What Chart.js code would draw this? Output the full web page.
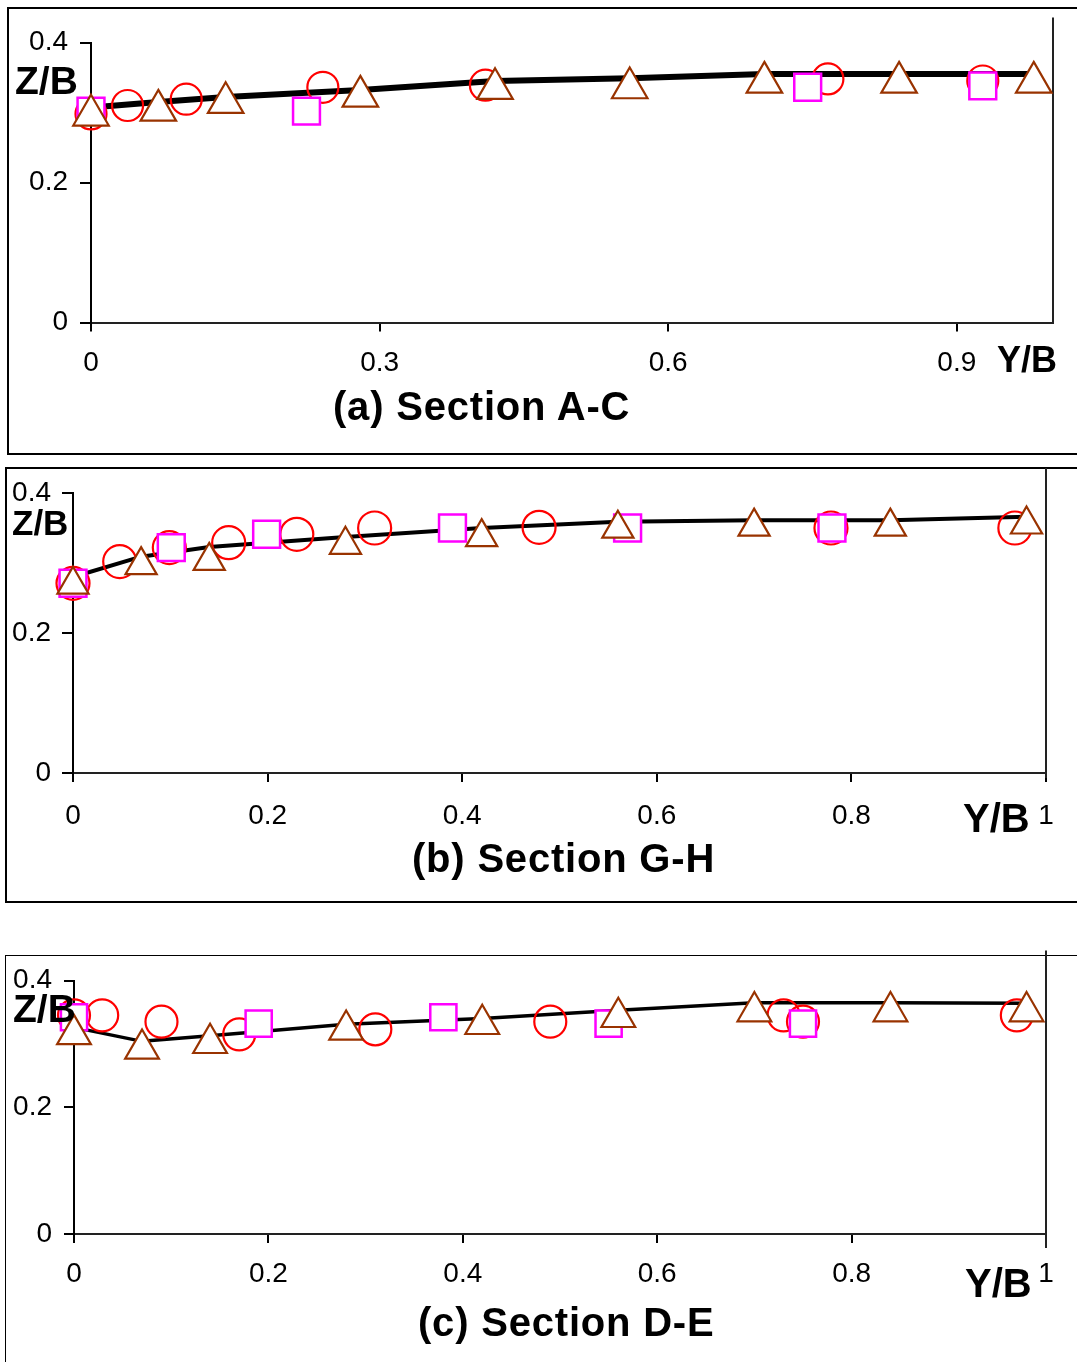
<!DOCTYPE html>
<html>
<head>
<meta charset="utf-8">
<script src="https://cdn.jsdelivr.net/npm/chart.js@4.4.1/dist/chart.umd.min.js"></script>
<style>
  body { margin: 0; background: #fff; width: 1077px; height: 1362px; position: relative; overflow: hidden;
         font-family: "Liberation Sans", Arial, sans-serif; }
  .box { position: absolute; border: 2px solid #000; box-sizing: border-box; }
  canvas { position: absolute; left: 0; }
  .lbl { position: absolute; font-weight: bold; line-height: 1; white-space: nowrap; color: #000; }
  .title { letter-spacing: 0.8px; font-size: 40px; }
</style>
</head>
<body>
<div class="box" style="left:7px;top:7px;width:1100px;height:448px"></div>
<div class="box" style="left:5px;top:467px;width:1100px;height:436px"></div>
<div class="box" style="left:5px;top:955px;width:1100px;height:440px;border-width:1.5px"></div>

<canvas id="chartA" width="1077" height="460" style="top:0"></canvas>
<canvas id="chartB" width="1077" height="450" style="top:460px"></canvas>
<canvas id="chartC" width="1077" height="422" style="top:940px"></canvas>

<div class="lbl" style="left:15px;top:61px;font-size:39px">Z/B</div>
<div class="lbl" style="left:997px;top:342px;font-size:36px">Y/B</div>
<div class="lbl title" style="left:333px;top:386px">(a) Section A-C</div>

<div class="lbl" style="left:12px;top:505px;font-size:35px">Z/B</div>
<div class="lbl" style="left:963px;top:798px;font-size:40px">Y/B</div>
<div class="lbl title" style="left:412px;top:838px">(b) Section G-H</div>

<div class="lbl" style="left:13px;top:989px;font-size:39px">Z/B</div>
<div class="lbl" style="left:965px;top:1263px;font-size:40px">Y/B</div>
<div class="lbl title" style="left:418px;top:1302px">(c) Section D-E</div>

<script>
// tick labels
const xTicksA = [0, 0.3, 0.6, 0.9];
const xTicksBC = [0, 0.2, 0.4, 0.6, 0.8, 1];
const yTicks = [0, 0.2, 0.4];

// Y/B positions of the triangles and the line vertices (same in all sections)
const triX = [0, 0.07, 0.14, 0.28, 0.42, 0.56, 0.70, 0.84, 0.98];

// (a) Section A-C
const lineA = [0.307, 0.315, 0.322, 0.332, 0.345, 0.349, 0.355, 0.355, 0.355];
const triA = [0.296, 0.303, 0.314, 0.323, 0.334, 0.335, 0.343, 0.343, 0.343];
const circXA = [0, 0.038, 0.099, 0.241, 0.41, 0.766, 0.927];
const circYA = [0.298, 0.310, 0.319, 0.336, 0.339, 0.348, 0.345];
const sqXA = [0, 0.224, 0.745, 0.927];
const sqYA = [0.302, 0.302, 0.336, 0.338];

// (b) Section G-H
const lineB = [0.28, 0.309, 0.323, 0.337, 0.35, 0.359, 0.361, 0.361, 0.366];
const triB = [0.269, 0.297, 0.303, 0.326, 0.337, 0.349, 0.352, 0.352, 0.355];
const circXB = [0, 0.048, 0.099, 0.16, 0.23, 0.31, 0.479, 0.779, 0.968];
const circYB = [0.271, 0.302, 0.322, 0.329, 0.341, 0.350, 0.351, 0.350, 0.350];
const sqXB = [0, 0.101, 0.199, 0.39, 0.57, 0.78];
const sqYB = [0.271, 0.322, 0.341, 0.350, 0.350, 0.350];

// (c) Section D-E
const lineC = [0.326, 0.304, 0.313, 0.331, 0.34, 0.353, 0.365, 0.365, 0.364];
const triC = [0.315, 0.292, 0.301, 0.322, 0.331, 0.342, 0.351, 0.351, 0.351];
const circXC = [0, 0.029, 0.09, 0.17, 0.31, 0.49, 0.73, 0.75, 0.97];
const circYC = [0.345, 0.345, 0.335, 0.315, 0.323, 0.335, 0.345, 0.335, 0.345];
const sqXC = [0, 0.19, 0.38, 0.55, 0.75];
const sqYC = [0.342, 0.332, 0.342, 0.332, 0.332];

const FONT = '"Liberation Sans", Arial, sans-serif';

function pts(xs, ys) {
    return xs.map((x, i) => ({ x: x, y: ys[i] }));
}

// vertical line at Y/B = 1, running a bit past the plot area
const edgeLine = {
    id: 'edgeLine',
    beforeDatasetsDraw(chart, args, opts) {
        const x = chart.scales.x.getPixelForValue(1);
        const a = chart.chartArea;
        const ctx = chart.ctx;
        ctx.save();
        ctx.strokeStyle = '#222';
        ctx.lineWidth = 2;
        ctx.beginPath();
        ctx.moveTo(x, a.top - opts.above);
        ctx.lineTo(x, a.bottom + opts.below);
        ctx.stroke();
        ctx.restore();
    }
};

function makeChart(id, d, s) {
    return new Chart(document.getElementById(id), {
        type: 'scatter',
        data: {
            datasets: [
                { data: pts(triX, d.tri), pointStyle: 'triangle', pointRadius: s.triR, pointBorderColor: '#993300',
                  pointBackgroundColor: '#fff', pointBorderWidth: 2.2, order: 0, clip: false },
                { data: pts(d.sqX, d.sqY), pointStyle: 'rect', pointRadius: s.sqR, pointBorderColor: '#ff00ff',
                  pointBackgroundColor: '#fff', pointBorderWidth: 2.5, order: 1, clip: false },
                { data: pts(d.circX, d.circY), pointStyle: 'circle', pointRadius: s.circR, pointBorderColor: '#ff0000',
                  pointBackgroundColor: 'rgba(0,0,0,0)', pointBorderWidth: 2.2, order: 2, clip: false },
                { data: pts(triX, d.line), showLine: true, pointRadius: 0, borderColor: '#000',
                  borderWidth: s.lineW, order: 3, clip: false },
            ]
        },
        options: {
            responsive: false,
            animation: false,
            events: [],
            layout: { padding: { left: 0, right: s.padR, top: s.padT, bottom: s.padB } },
            plugins: {
                legend: { display: false },
                tooltip: { enabled: false },
                edgeLine: { above: s.above, below: s.below },
            },
            scales: {
                x: {
                    type: 'linear', min: 0, max: 1,
                    afterBuildTicks: sc => { sc.ticks = d.xTicks.map(v => ({ value: v })); },
                    afterFit: sc => { sc.height = 60; },
                    grid: { drawOnChartArea: false, tickLength: 9, color: '#000', lineWidth: 2 },
                    border: { color: '#222', width: 2 },
                    ticks: { color: '#000', font: { family: FONT, size: 28 }, padding: s.xPad,
                             autoSkip: false, maxRotation: 0, callback: v => String(v) }
                },
                y: {
                    type: 'linear', min: 0, max: 0.4,
                    afterBuildTicks: sc => { sc.ticks = yTicks.map(v => ({ value: v })); },
                    afterFit: sc => { sc.width = s.yW; },
                    grid: { drawOnChartArea: false, tickLength: s.yTick, color: '#000', lineWidth: 2 },
                    border: { color: '#000', width: 2 },
                    ticks: { color: '#000', font: { family: FONT, size: 28 }, padding: s.yPad,
                             callback: v => String(v) }
                }
            }
        },
        plugins: [edgeLine]
    });
}

makeChart('chartA',
    { xTicks: xTicksA, line: lineA, tri: triA, circX: circXA, circY: circYA, sqX: sqXA, sqY: sqYA },
    { triR: 20.5, sqR: 19, circR: 15.5, lineW: 6, padR: 24, padT: 42.5, padB: 77.5, yW: 91, yTick: 11, yPad: 12,
      xPad: 15, above: 25, below: 0 });

makeChart('chartB',
    { xTicks: xTicksBC, line: lineB, tri: triB, circX: circXB, circY: circYB, sqX: sqXB, sqY: sqYB },
    { triR: 18, sqR: 19, circR: 16.5, lineW: 4, padR: 31, padT: 33, padB: 77, yW: 73, yTick: 11, yPad: 11,
      xPad: 17, above: 25, below: 5 });

makeChart('chartC',
    { xTicks: xTicksBC, line: lineC, tri: triC, circX: circXC, circY: circYC, sqX: sqXC, sqY: sqYC },
    { triR: 19.5, sqR: 18.5, circR: 16, lineW: 3.5, padR: 31, padT: 40.5, padB: 68, yW: 74, yTick: 10, yPad: 12,
      xPad: 14, above: 30, below: 14 });
</script>
</body>
</html>
